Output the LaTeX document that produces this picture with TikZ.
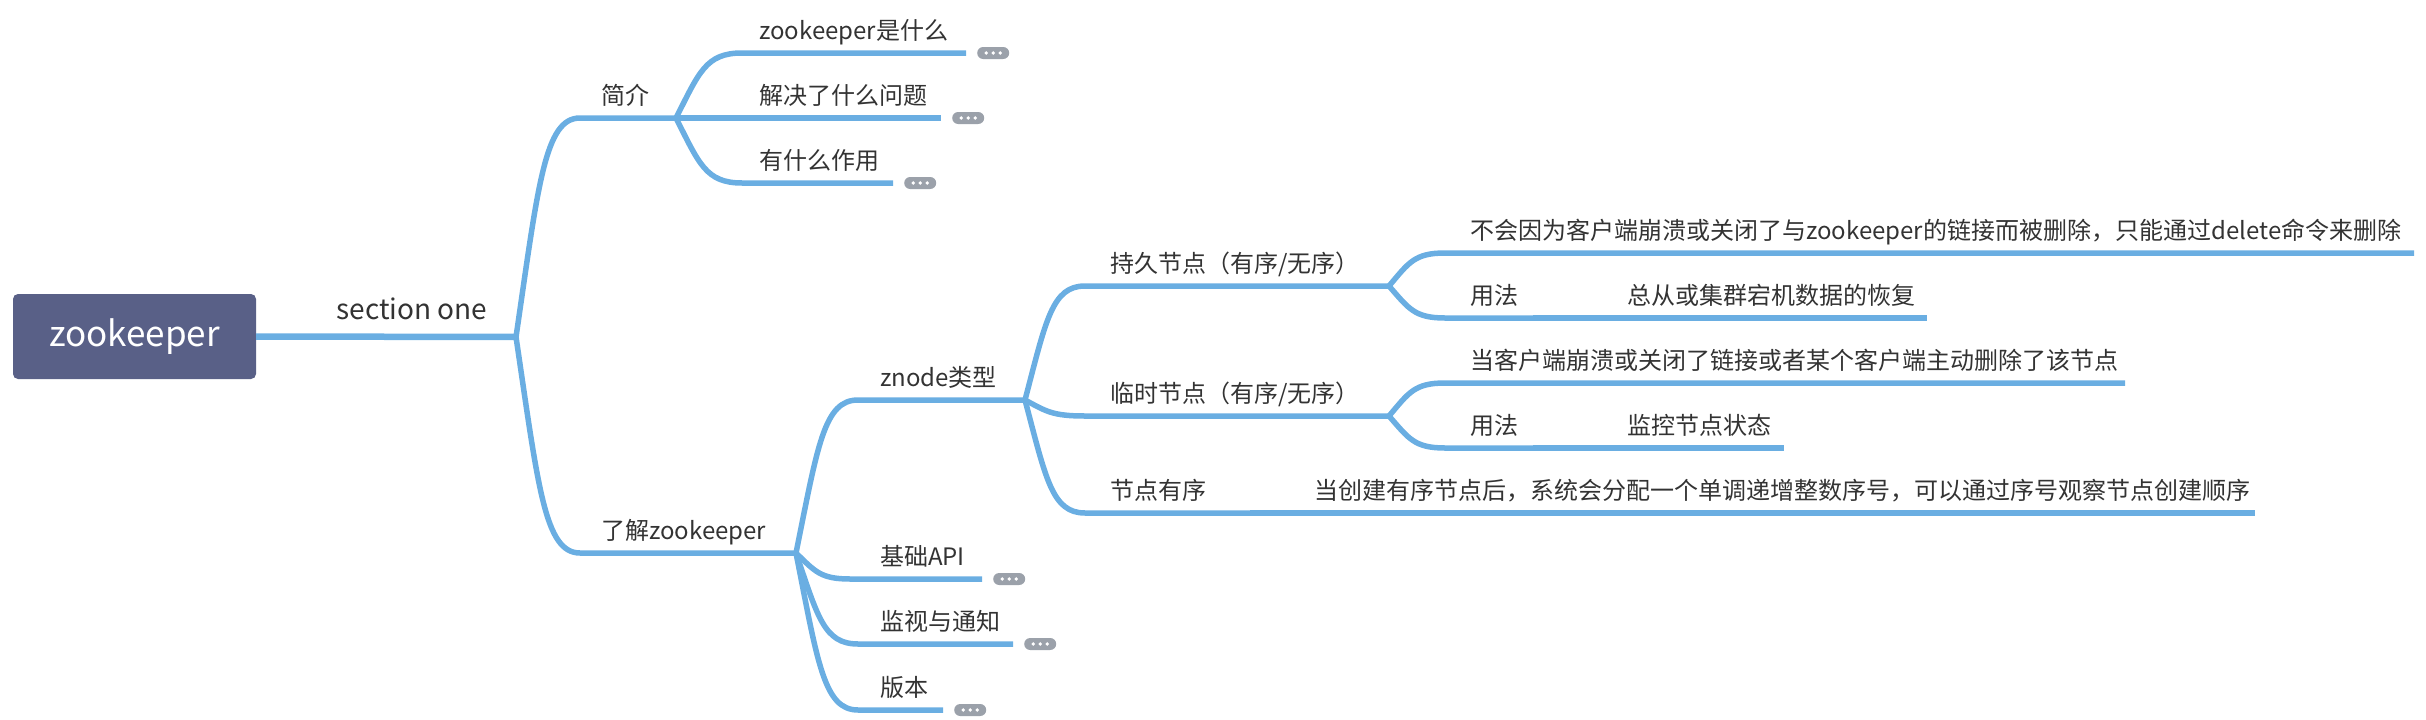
\documentclass[tikz,border=0pt]{standalone}
\usepackage{fontspec}
\setmainfont{Noto Sans CJK SC}
\usetikzlibrary{calc}
\definecolor{lineblue}{HTML}{6AAEE2}
\definecolor{rootfill}{HTML}{596087}
\definecolor{txt}{HTML}{333333}
\definecolor{pillgray}{HTML}{9BA1AA}
\newcommand\mmbranch[3]{\draw[branch] let \p1=(#1), \p2=(#2) in (\p1) .. controls ({\x1+0.35*(\x2-\x1)},{\y1+0.7*(\y2-\y1)}) and ({\x1+0.45*(\x2-\x1)},{\y2}) .. (\p2) -- (#3);}
\tikzset{
  branch/.style={draw=lineblue, line width=5.5pt, line cap=butt, line join=round},
  mainbranch/.style={branch, line width=6.5pt},
  topic/.style={font=\fontsize{24pt}{28pt}\selectfont, text=txt, inner sep=0pt, anchor=base west},
  rootbox/.style={fill=rootfill, rounded corners=5pt, minimum width=243pt, minimum height=85pt, inner sep=0pt, text=white, font=\fontsize{35pt}{40pt}\selectfont},
  pill/.style={fill=pillgray, rounded corners=6pt, minimum width=32pt, minimum height=12pt, inner sep=0pt, anchor=west,
    path picture={\fill[white] (path picture bounding box.center) circle (1.8pt) ++(-7pt,0pt) circle (1.8pt) ++(14pt,0pt) circle (1.8pt);}}
}
\begin{document}
\begin{tikzpicture}[x=1pt,y=-1pt]
\useasboundingbox (0,0) rectangle (2426,720);
% root
\node[rootbox] (root) at (134.5,336.5) {\raisebox{-3pt}{zookeeper}};
\coordinate (J1) at (516,337);
\draw[mainbranch] (root.east) -- (J1);
\node[font=\fontsize{28pt}{32pt}\selectfont, text=txt, inner sep=0pt, anchor=base] (t-s1) at (412,319) {section one};
% level 2
\coordinate (c-jj) at (580,118); \coordinate (J2) at (676,118);
\coordinate (c-lj) at (580,553); \coordinate (J3) at (796,553);
\mmbranch{J1}{c-jj}{J2}
\mmbranch{J1}{c-lj}{J3}
\node[topic] (t-jj) at (601,104) {简介};
\node[topic] (t-lj) at (601,539) {了解zookeeper};
% under 简介
\coordinate (c-zk) at (742,53); \coordinate (e-zk) at (966,53);
\coordinate (e-jj) at (941,118);
\coordinate (c-zy) at (742,183); \coordinate (e-zy) at (893,183);
\mmbranch{J2}{c-zk}{e-zk}
\draw[branch] (J2) -- (e-jj);
\mmbranch{J2}{c-zy}{e-zy}
\node[topic] (t-zk) at (759,39) {zookeeper是什么};
\node[topic] (t-jjwt) at (759,104) {解决了什么问题};
\node[topic] (t-zy) at (759,169) {有什么作用};
\node[pill] (p-zk) at ([xshift=11pt]e-zk) {};
\node[pill] (p-jj) at ([xshift=11pt]e-jj) {};
\node[pill] (p-zy) at ([xshift=11pt]e-zy) {};
% under 了解zookeeper
\coordinate (c-zn) at (858,400); \coordinate (J4) at (1025,400);
\coordinate (c-api) at (850,579); \coordinate (e-api) at (982,579);
\coordinate (c-jt) at (858,644); \coordinate (e-jt) at (1013,644);
\coordinate (c-bb) at (858,710); \coordinate (e-bb) at (943,710);
\mmbranch{J3}{c-zn}{J4}
\mmbranch{J3}{c-api}{e-api}
\mmbranch{J3}{c-jt}{e-jt}
\mmbranch{J3}{c-bb}{e-bb}
\node[topic] (t-zn) at (880,386) {znode类型};
\node[topic] (t-api) at (880,565) {基础API};
\node[topic] (t-jt) at (880,630) {监视与通知};
\node[topic] (t-bb) at (880,696) {版本};
\node[pill] (p-api) at ([xshift=11pt]e-api) {};
\node[pill] (p-jt) at ([xshift=11pt]e-jt) {};
\node[pill] (p-bb) at ([xshift=11pt]e-bb) {};
% under znode类型
\coordinate (c-cj) at (1085,286); \coordinate (J5) at (1389,286);
\coordinate (c-ls) at (1085,416); \coordinate (J6) at (1389,416);
\coordinate (c-yx) at (1085,513); \coordinate (e-yx) at (1250,513); \coordinate (e-yx2) at (2255,513);
\mmbranch{J4}{c-cj}{J5}
\mmbranch{J4}{c-ls}{J6}
\mmbranch{J4}{c-yx}{e-yx}
\draw[branch] (e-yx) -- (e-yx2);
\node[topic] (t-cj) at (1110,272) {持久节点（有序/无序）};
\node[topic] (t-ls) at (1110,402) {临时节点（有序/无序）};
\node[topic] (t-yx) at (1110,499) {节点有序};
\node[topic] (t-yx2) at (1314,499) {当创建有序节点后，系统会分配一个单调递增整数序号，可以通过序号观察节点创建顺序};
% under 持久节点
\coordinate (c-bh) at (1445,253); \coordinate (e-bh) at (2414,253);
\coordinate (c-yf1) at (1445,318); \coordinate (e-yf1) at (1533,318); \coordinate (e-yf1b) at (1927,318);
\mmbranch{J5}{c-bh}{e-bh}
\mmbranch{J5}{c-yf1}{e-yf1}
\draw[branch] (e-yf1) -- (e-yf1b);
\node[topic] (t-bh) at (1470,239) {不会因为客户端崩溃或关闭了与zookeeper的链接而被删除，只能通过delete命令来删除};
\node[topic] (t-yf1) at (1470,304) {用法};
\node[topic] (t-yf1b) at (1627,304) {总从或集群宕机数据的恢复};
% under 临时节点
\coordinate (c-dk) at (1445,383); \coordinate (e-dk) at (2125,383);
\coordinate (c-yf2) at (1445,448); \coordinate (e-yf2) at (1533,448); \coordinate (e-yf2b) at (1784,448);
\mmbranch{J6}{c-dk}{e-dk}
\mmbranch{J6}{c-yf2}{e-yf2}
\draw[branch] (e-yf2) -- (e-yf2b);
\node[topic] (t-dk) at (1470,369) {当客户端崩溃或关闭了链接或者某个客户端主动删除了该节点};
\node[topic] (t-yf2) at (1470,434) {用法};
\node[topic] (t-yf2b) at (1627,434) {监控节点状态};
\end{tikzpicture}
\end{document}
